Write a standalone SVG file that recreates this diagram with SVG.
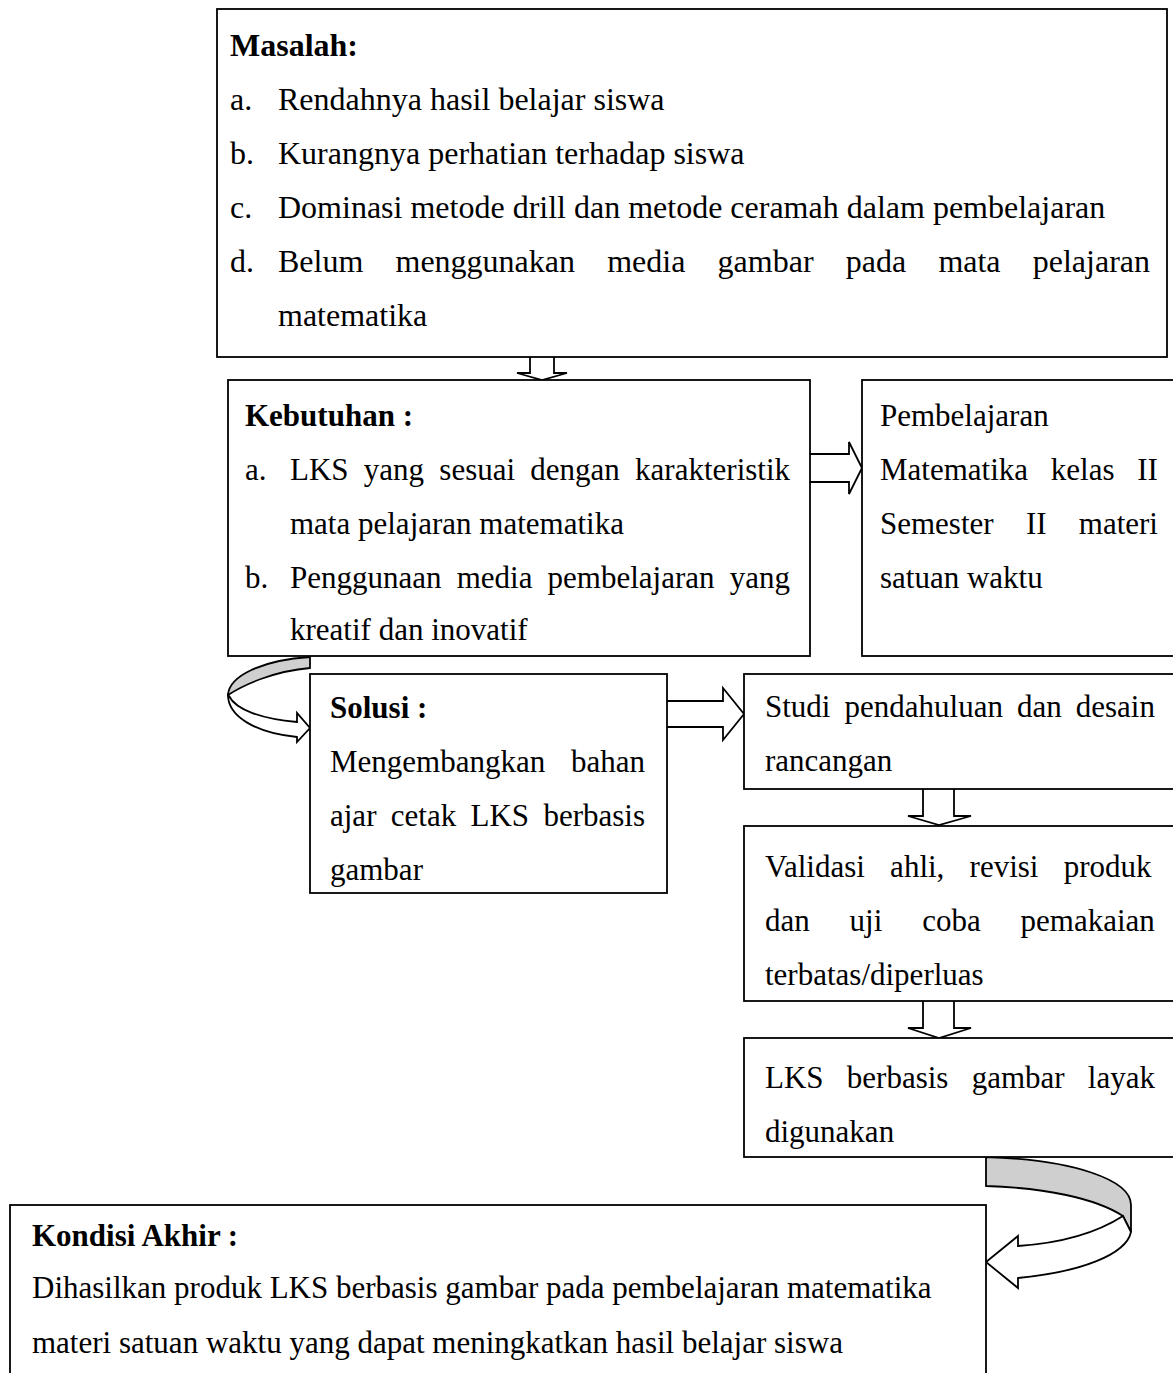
<svg xmlns="http://www.w3.org/2000/svg" width="1173" height="1373" viewBox="0 0 1173 1373">
<style>
.box{fill:#fff;stroke:#000;stroke-width:1.8}
.arr{fill:#fff;stroke:#000;stroke-width:1.8;stroke-linejoin:miter}
.band{fill:#cfcfcf;stroke:#000;stroke-width:1.8}
text{font-family:"Liberation Serif","Times New Roman",serif;font-size:31px;fill:#000}
.m text{font-size:32px}
.b{font-weight:bold}
</style>
<rect width="1173" height="1373" fill="#fff"/>
<g id="connectors">
<path class="arr" d="M530,357 L530,373 L517,373 L542,380 L567,373 L554,373 L554,357"/>
<path class="arr" d="M810,454 L849,454 L849,442 L862,468 L849,494 L849,482 L810,482"/>
<path class="arr" d="M667,701 L723,701 L723,688 L744,714 L723,740 L723,727 L667,727"/>
<path class="arr" d="M923,789 L923,816 L908,816 L939,825 L971,816 L954,816 L954,789"/>
<path class="arr" d="M923,1001 L923,1028 L908,1028 L939,1038 L971,1028 L954,1028 L954,1001"/>
<path class="band" d="M310,657 C262,660 229,676 228,695 C245,684 275,671 310,668 Z"/>
<path class="arr" d="M229,696 C236,710 262,719 297,722 L297,713 L310,728 L297,742 L297,737 C255,733 228,716 228,695 Z"/>
<path class="band" d="M986,1157 C1075,1160 1131,1180 1131,1205 L1131,1232 L1123,1216 C1095,1198 1045,1188 986,1186 Z"/>
<path class="arr" d="M1123,1216 C1095,1234 1062,1243 1018,1246 L1018,1236 L986,1262 L1018,1288 L1018,1278 C1080,1272 1126,1255 1131,1232 Z"/>
</g>
<g id="masalah" class="m">
<rect class="box" x="217" y="9" width="950" height="348"/>
<text class="b" x="230" y="56">Masalah:</text>
<text x="230" y="110">a.</text><text x="278" y="110">Rendahnya hasil belajar siswa</text>
<text x="230" y="164">b.</text><text x="278" y="164">Kurangnya perhatian terhadap siswa</text>
<text x="230" y="218">c.</text><text x="278" y="218">Dominasi metode drill dan metode ceramah dalam pembelajaran</text>
<text x="230" y="272">d.</text><text x="278" y="272" word-spacing="24.2">Belum menggunakan media gambar pada mata pelajaran</text>
<text x="278" y="326">matematika</text>
</g>
<g id="kebutuhan">
<rect class="box" x="228" y="380" width="582" height="276"/>
<text class="b" x="245" y="426">Kebutuhan :</text>
<text x="245" y="480">a.</text><text x="290" y="480" word-spacing="7.5">LKS yang sesuai dengan karakteristik</text>
<text x="290" y="534">mata pelajaran matematika</text>
<text x="245" y="588">b.</text><text x="290" y="588" word-spacing="7.4">Penggunaan media pembelajaran yang</text>
<text x="290" y="640">kreatif dan inovatif</text>
</g>
<g id="pembelajaran">
<rect class="box" x="862" y="380" width="320" height="276"/>
<text x="880" y="426">Pembelajaran</text>
<text x="880" y="480" word-spacing="15">Matematika kelas II</text>
<text x="880" y="534" word-spacing="24.5">Semester II materi</text>
<text x="880" y="588">satuan waktu</text>
</g>
<g id="solusi">
<rect class="box" x="310" y="674" width="357" height="219"/>
<text class="b" x="330" y="718">Solusi :</text>
<text x="330" y="772" word-spacing="18">Mengembangkan bahan</text>
<text x="330" y="826" word-spacing="6.6">ajar cetak LKS berbasis</text>
<text x="330" y="880">gambar</text>
</g>
<g id="studi">
<rect class="box" x="744" y="674" width="438" height="115"/>
<text x="765" y="717" word-spacing="6.3">Studi pendahuluan dan desain</text>
<text x="765" y="771">rancangan</text>
</g>
<g id="validasi">
<rect class="box" x="744" y="826" width="438" height="175"/>
<text x="765" y="877" word-spacing="17.5">Validasi ahli, revisi produk</text>
<text x="765" y="931" word-spacing="32.1">dan uji coba pemakaian</text>
<text x="765" y="985">terbatas/diperluas</text>
</g>
<g id="lks">
<rect class="box" x="744" y="1038" width="438" height="119"/>
<text x="765" y="1088" word-spacing="15.5">LKS berbasis gambar layak</text>
<text x="765" y="1142">digunakan</text>
</g>
<g id="kondisi">
<rect class="box" x="10" y="1205" width="976" height="180"/>
<text class="b" x="32" y="1246">Kondisi Akhir :</text>
<text x="32" y="1298">Dihasilkan produk LKS berbasis gambar pada pembelajaran matematika</text>
<text x="32" y="1353">materi satuan waktu yang dapat meningkatkan hasil belajar siswa</text>
</g>
</svg>
